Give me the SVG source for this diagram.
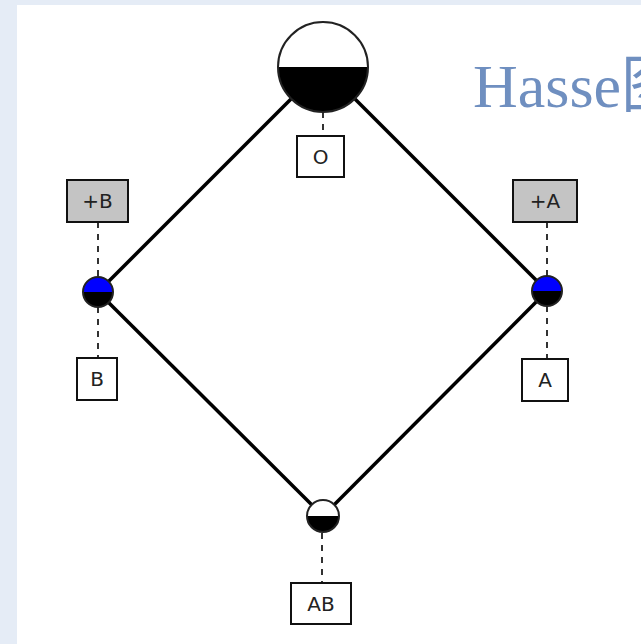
<svg xmlns="http://www.w3.org/2000/svg" width="641" height="644" viewBox="0 0 641 644">
<style>
.edge{stroke:#000;stroke-width:3.5;fill:none}
.dash{stroke:#000;stroke-width:1.6;stroke-dasharray:6 6;fill:none}
.box{fill:#fff;stroke:#111;stroke-width:2}
.gbox{fill:#c4c4c4;stroke:#111;stroke-width:2}
.lbl{font-family:"DejaVu Sans","Liberation Sans",sans-serif;font-size:20px;fill:#222;text-anchor:middle}
.ring{fill:none;stroke:#222;stroke-width:2}
</style>
<rect x="0" y="0" width="641" height="644" fill="#e5ecf6"/>
<rect x="17" y="5" width="624" height="639" fill="#fff"/>
<text x="473" y="107" font-family="'Liberation Serif','Noto Sans CJK SC',serif" font-size="62" fill="#6f8fc0">Hasse图</text>
<g id="connectors">
<line class="edge" x1="323" y1="67" x2="98" y2="292"/>
<line class="edge" x1="323" y1="67" x2="547" y2="291"/>
<line class="edge" x1="98" y1="292" x2="323" y2="516"/>
<line class="edge" x1="547" y1="291" x2="323" y2="516"/>
<line class="dash" x1="323" y1="112" x2="323" y2="136"/>
<line class="dash" x1="98" y1="222" x2="98" y2="277"/>
<line class="dash" x1="98" y1="307" x2="98" y2="358"/>
<line class="dash" x1="547" y1="222" x2="547" y2="276"/>
<line class="dash" x1="547" y1="306" x2="547" y2="359"/>
<line class="dash" x1="322" y1="533" x2="322" y2="583"/>
</g>
<g id="node-O">
<path d="M278 67 A45 45 0 0 1 368 67 Z" fill="#fff"/>
<path d="M278 67 A45 45 0 0 0 368 67 Z" fill="#000"/>
<circle class="ring" cx="323" cy="67" r="45"/>
<rect class="box" x="297" y="136" width="47" height="41"/>
<text class="lbl" x="320.5" y="164">O</text>
</g>
<g id="node-B">
<path d="M83 292 A15 15 0 0 1 113 292 Z" fill="#0000ff"/>
<path d="M83 292 A15 15 0 0 0 113 292 Z" fill="#000"/>
<circle class="ring" cx="98" cy="292" r="15"/>
<rect class="gbox" x="67" y="180" width="61" height="42"/>
<text class="lbl" x="97.5" y="208">+B</text>
<rect class="box" x="77" y="358" width="40" height="42"/>
<text class="lbl" x="97" y="386">B</text>
</g>
<g id="node-A">
<path d="M532 291 A15 15 0 0 1 562 291 Z" fill="#0000ff"/>
<path d="M532 291 A15 15 0 0 0 562 291 Z" fill="#000"/>
<circle class="ring" cx="547" cy="291" r="15"/>
<rect class="gbox" x="513" y="180" width="64" height="42"/>
<text class="lbl" x="545" y="208">+A</text>
<rect class="box" x="522" y="359" width="46" height="42"/>
<text class="lbl" x="545" y="387">A</text>
</g>
<g id="node-AB">
<path d="M307 516 A16 16 0 0 1 339 516 Z" fill="#fff"/>
<path d="M307 516 A16 16 0 0 0 339 516 Z" fill="#000"/>
<circle class="ring" cx="323" cy="516" r="16"/>
<rect class="box" x="291" y="583" width="60" height="41"/>
<text class="lbl" x="321" y="611">AB</text>
</g>
</svg>
